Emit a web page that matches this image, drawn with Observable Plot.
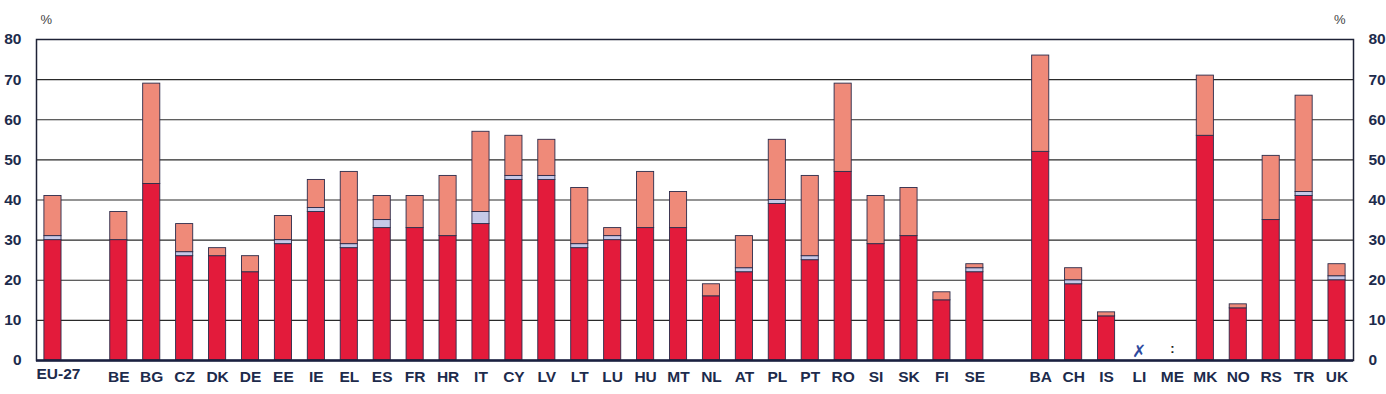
<!DOCTYPE html>
<html>
<head>
<meta charset="utf-8">
<script src="https://cdn.jsdelivr.net/npm/d3@7"></script>
<script src="https://cdn.jsdelivr.net/npm/@observablehq/plot@0.6"></script>
<style>
  html, body { margin: 0; padding: 0; background: #fff; }
  #chart svg { display: block; }
</style>
</head>
<body>
<div id="chart"></div>
<script>
// Slots along the x axis ("gap" entries are empty gap slots)
const slots = ["EU-27", "gap1",
  "BE","BG","CZ","DK","DE","EE","IE","EL","ES","FR","HR","IT","CY","LV","LT","LU","HU","MT","NL","AT","PL","PT","RO","SI","SK","FI","SE",
  "gap2",
  "BA","CH","IS","LI","ME","MK","NO","RS","TR","UK"];

const countries = ["EU-27",
  "BE","BG","CZ","DK","DE","EE","IE","EL","ES","FR","HR","IT","CY","LV","LT","LU","HU","MT","NL","AT","PL","PT","RO","SI","SK","FI","SE",
  "BA","CH","IS","LI","ME","MK","NO","RS","TR","UK"];

// Series values (%), bottom to top
const series1 = [30,
  30,44,26,26,22,29,37,28,33,33,31,34,45,45,28,30,33,33,16,22,39,25,47,29,31,15,22,
  52,19,11,null,null,56,13,35,41,20];
const series2 = [1,
  0,0,1,0,0,1,1,1,2,0,0,3,1,1,1,1,0,0,0,1,1,1,0,0,0,0,1,
  0,1,0,null,null,0,0,0,1,1];
const series3 = [10,
  7,25,7,2,4,6,7,18,6,8,15,20,10,9,14,2,14,9,3,8,15,20,22,12,12,2,1,
  24,3,1,null,null,15,1,16,24,3];

const seriesNames = ["s1", "s2", "s3"];
const seriesColors = ["#e31b3b", "#c6c9e8", "#ef8a79"];

// Flags for countries without data
const flagCountries = ["LI", "ME"];
const flagTexts = ["✗", ":"];

const yTicks = [0,10,20,30,40,50,60,70,80];

const data = [];
countries.forEach((c, i) => {
  [series1, series2, series3].forEach((s, k) => {
    if (s[i] != null && s[i] > 0) data.push({country: c, series: seriesNames[k], value: s[i]});
  });
});
const flags = flagCountries.map((c, i) => ({country: c, text: flagTexts[i]}));

const labelFont = "'Liberation Sans', Arial, sans-serif";
const navy = "#1d2b4c";

const chart = Plot.plot({
  width: 1386,
  height: 394,
  marginLeft: 36,
  marginRight: 33,
  marginTop: 39,
  marginBottom: 34,
  style: {fontFamily: labelFont, fontSize: "15.5px", fontWeight: "bold", color: navy, background: "#fff"},
  x: {domain: slots, paddingInner: 0.48, paddingOuter: 0.24, axis: null},
  y: {domain: [0, 80], ticks: yTicks},
  color: {domain: seriesNames, range: seriesColors},
  marks: [
    Plot.ruleY(yTicks.filter(d => d > 0 && d < 80), {stroke: "#2a2a2a", strokeWidth: 1.2}),
    Plot.barY(data, {x: "country", y: "value", fill: "series", stroke: "#2c2b4a", strokeWidth: 0.9, order: seriesNames}),
    Plot.frame({stroke: "#1e2236", strokeWidth: 1.5}),
    Plot.ruleY([0], {stroke: "#1a2040", strokeWidth: 2.5}),
    Plot.axisY({anchor: "left", ticks: yTicks, tickSize: 0, tickPadding: 15, label: null}),
    Plot.axisY({anchor: "right", ticks: yTicks, tickSize: 0, tickPadding: 15, label: null}),
    Plot.text(countries.filter(c => c !== "EU-27"), {x: d => d, y: 0, dy: 17, text: d => d, fill: navy}),
    Plot.text(["EU-27"], {x: d => d, y: 0, dy: 14, text: d => d, textAnchor: "start", dx: -16.5, fill: navy}),
    Plot.text(flags.filter(d => d.text === "✗"), {x: "country", y: 0, dy: -9, text: "text", fill: "#2e4a9e", fontSize: 17, fontWeight: "normal"}),
    Plot.text(flags.filter(d => d.text === ":"), {x: "country", y: 0, dy: -12, text: "text", fill: "#222", fontSize: 13}),
    Plot.text(["%"], {frameAnchor: "top-left", dx: 4, dy: -25, text: d => d, fill: "#444", fontSize: 13, fontWeight: "normal"}),
    Plot.text(["%"], {frameAnchor: "top-right", dx: -8, dy: -25, text: d => d, fill: "#444", fontSize: 13, fontWeight: "normal"})
  ]
});
document.getElementById("chart").appendChild(chart);
</script>
</body>
</html>
